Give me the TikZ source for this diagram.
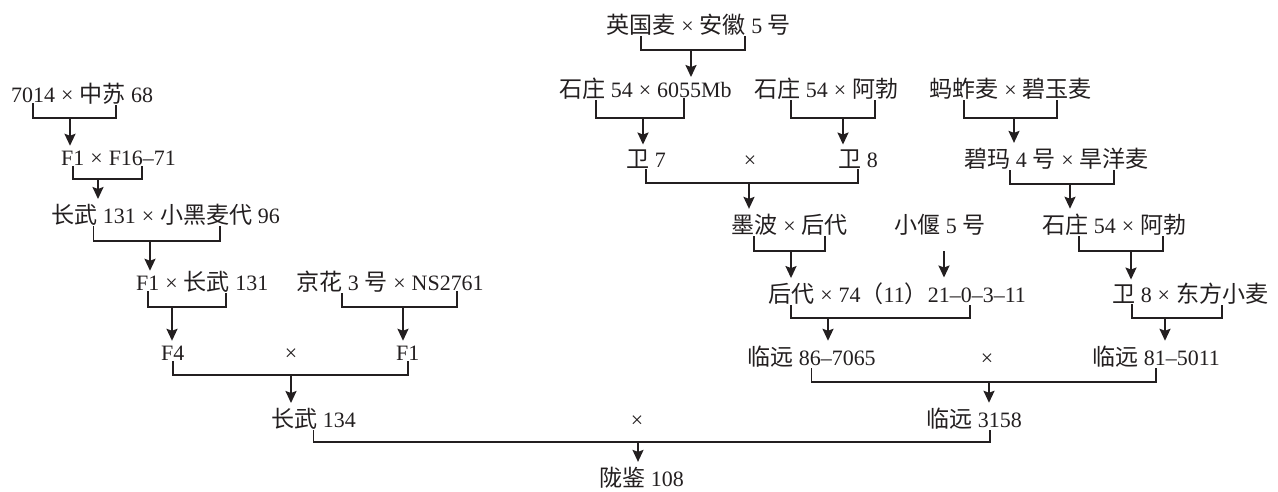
\documentclass[tikz,border=0pt]{standalone}
\usepackage{fontspec}
\setmainfont{Liberation Serif}
\newfontfamily\cjkfont[Scale=1.05]{Noto Sans CJK SC}
\usetikzlibrary{arrows.meta, positioning}
\definecolor{inkgray}{RGB}{35,31,32}
\newcommand{\zh}[1]{{\cjkfont #1}}

\begin{document}
\begin{tikzpicture}[
    x=0.02cm, y=-0.02cm,
    node distance=2pt,
    txt/.style={anchor=base west, inner sep=0.5pt, text=inkgray,
                font=\fontsize{12.5}{15}\selectfont},
    cross/.style={txt, anchor=base},
    link/.style={line width=1.1pt, draw=inkgray},
    arr/.style={-{Stealth[length=2.4mm, width=2.2mm, inset=0.4mm]},
                line width=1.1pt, draw=inkgray, fill=inkgray, shorten >=2pt},
]
\useasboundingbox (0,0) rectangle (1278,491);

% left branch
\node[txt] (a7014) at (10,102) {7014};
\node[txt, base right=of a7014] (x1) {×};
\node[txt, base right=of x1] (zs68) {\zh{中苏} 68};

\node[txt] (f1a) at (60,165) {F1};
\node[txt, base right=of f1a] (x2) {×};
\node[txt, base right=of x2] (f16) {F16–71};

\node[txt] (cw131a) at (50,223) {\zh{长武} 131};
\node[txt, base right=of cw131a] (x3) {×};
\node[txt, base right=of x3] (xhm) {\zh{小黑麦代} 96};

\node[txt] (f1b) at (135,290) {F1};
\node[txt, base right=of f1b] (x4) {×};
\node[txt, base right=of x4] (cw131b) {\zh{长武} 131};
\node[txt] (jh3) at (295,290) {\zh{京花} 3 \zh{号}};
\node[txt, base right=of jh3] (x5) {×};
\node[txt, base right=of x5] (ns) {NS2761};

\node[txt] (f4) at (160,360) {F4};
\node[cross] (x6) at (291,360) {×};
\node[txt] (f1c) at (395,360) {F1};

\node[txt] (cw134) at (270,427) {\zh{长武} 134};
\node[cross] (x7) at (637,427) {×};
\node[txt] (ly3158) at (925,427) {\zh{临远} 3158};

\node[txt] (lj108) at (598,486) {\zh{陇鉴} 108};

% right branch
\node[txt] (ygm) at (605,33) {\zh{英国麦}};
\node[txt, base right=of ygm] (x8) {×};
\node[txt, base right=of x8] (ah5) {\zh{安徽} 5 \zh{号}};

\node[txt] (sz54a) at (558,97) {\zh{石庄} 54};
\node[txt, base right=of sz54a] (x9) {×};
\node[txt, base right=of x9] (mb) {6055Mb};
\node[txt] (sz54b) at (753,97) {\zh{石庄} 54};
\node[txt, base right=of sz54b] (x10) {×};
\node[txt, base right=of x10] (abb) {\zh{阿勃}};
\node[txt] (mzm) at (928,97) {\zh{蚂蚱麦}};
\node[txt, base right=of mzm] (x11) {×};
\node[txt, base right=of x11] (bym) {\zh{碧玉麦}};

\node[txt] (w7) at (625,167) {\zh{卫} 7};
\node[cross] (x12) at (750,167) {×};
\node[txt] (w8a) at (837,167) {\zh{卫} 8};
\node[txt] (bm4) at (963,167) {\zh{碧玛} 4 \zh{号}};
\node[txt, base right=of bm4] (x13) {×};
\node[txt, base right=of x13] (hym) {\zh{旱洋麦}};

\node[txt] (mbo) at (730,233) {\zh{墨波}};
\node[txt, base right=of mbo] (x14) {×};
\node[txt, base right=of x14] (hd1) {\zh{后代}};
\node[txt] (xy5) at (893,233) {\zh{小偃} 5 \zh{号}};
\node[txt] (sz54c) at (1041,233) {\zh{石庄} 54};
\node[txt, base right=of sz54c] (x15) {×};
\node[txt, base right=of x15] (abc) {\zh{阿勃}};

\node[txt] (hd2) at (767,302) {\zh{后代}};
\node[txt, base right=of hd2] (x16) {×};
\node[txt, base right=of x16] (num) {74\zh{（}11\zh{）}21–0–3–11};
\node[txt] (w8b) at (1111,302) {\zh{卫} 8};
\node[txt, base right=of w8b] (x17) {×};
\node[txt, base right=of x17] (dfxm) {\zh{东方小麦}};

\node[txt] (ly86) at (746,365) {\zh{临远} 86–7065};
\node[cross] (x18) at (987,365) {×};
\node[txt] (ly81) at (1091,365) {\zh{临远} 81–5011};

% junctions
\coordinate (j1) at (70,118);
\coordinate (j2) at (98,179);
\coordinate (j3) at (150,241);
\coordinate (j4) at (172,307);
\coordinate (j5) at (403,307);
\coordinate (j6) at (291,375);
\coordinate (j7) at (638,442);
\coordinate (k1) at (691,50);
\coordinate (k2) at (643,118);
\coordinate (k3) at (843,118);
\coordinate (k4) at (1014,118);
\coordinate (k5) at (749,183);
\coordinate (k6) at (1070,184);
\coordinate (k7) at (791,251);
\coordinate (k8) at (1131,251);
\coordinate (k9) at (828,318);
\coordinate (k10) at (1165,318);
\coordinate (k11) at (989,382);
\coordinate (xytop) at (944,251);

\draw[link] (a7014.south) |- (j1) -| (zs68.south);
\draw[arr] (j1) -- (j1 |- f1a.north);
\draw[link] (f1a.south) |- (j2) -| (f16.south);
\draw[arr] (j2) -- (j2 |- cw131a.north);
\draw[link] (cw131a.south) |- (j3) -| (xhm.south);
\draw[arr] (j3) -- (j3 |- f1b.north);
\draw[link] (f1b.south) |- (j4) -| (cw131b.south);
\draw[arr] (j4) -- (j4 |- f4.north);
\draw[link] (jh3.south) |- (j5) -| ([xshift=0.18cm]ns.south);
\draw[arr] (j5) -- (j5 |- f1c.north);
\draw[link] (f4.south) |- (j6) -| (f1c.south);
\draw[arr] (j6) -- (j6 |- cw134.north);
\draw[link] (cw134.south) |- (j7) -| ([xshift=0.32cm]ly3158.south);
\draw[arr] (j7) -- (j7 |- lj108.north);

\draw[link] (ygm.south) |- (k1) -| (ah5.south);
\draw[arr] (k1) -- (k1 |- mb.north);
\draw[link] (sz54a.south) |- (k2) -| ([xshift=-0.2cm]mb.south);
\draw[arr] (k2) -- (k2 |- w7.north);
\draw[link] (sz54b.south) |- (k3) -| (abb.south);
\draw[arr] (k3) -- (k3 |- w8a.north);
\draw[link] (mzm.south) |- (k4) -| (bym.south);
\draw[arr] (k4) -- (k4 |- bm4.north);
\draw[link] (w7.south) |- (k5) -| (w8a.south);
\draw[arr] (k5) -- (k5 |- mbo.north);
\draw[link] (bm4.south) |- (k6) -| (hym.south);
\draw[arr] (k6) -- (k6 |- sz54c.north);
\draw[link] (mbo.south) |- (k7) -| (hd1.south);
\draw[arr] (k7) -- (k7 |- hd2.north);
\draw[arr] (xytop) -- (xytop |- num.north);
\draw[link] (sz54c.south) |- (k8) -| (abc.south);
\draw[arr] (k8) -- (k8 |- w8b.north);
\draw[link] (hd2.south) |- (k9) -| ([xshift=0.76cm]num.south);
\draw[arr] (k9) -- (k9 |- ly86.north);
\draw[link] (w8b.south) |- (k10) -| (dfxm.south);
\draw[arr] (k10) -- (k10 |- ly81.north);
\draw[link] (ly86.south) |- (k11) -| (ly81.south);
\draw[arr] (k11) -- (k11 |- ly3158.north);

\end{tikzpicture}
\end{document}
